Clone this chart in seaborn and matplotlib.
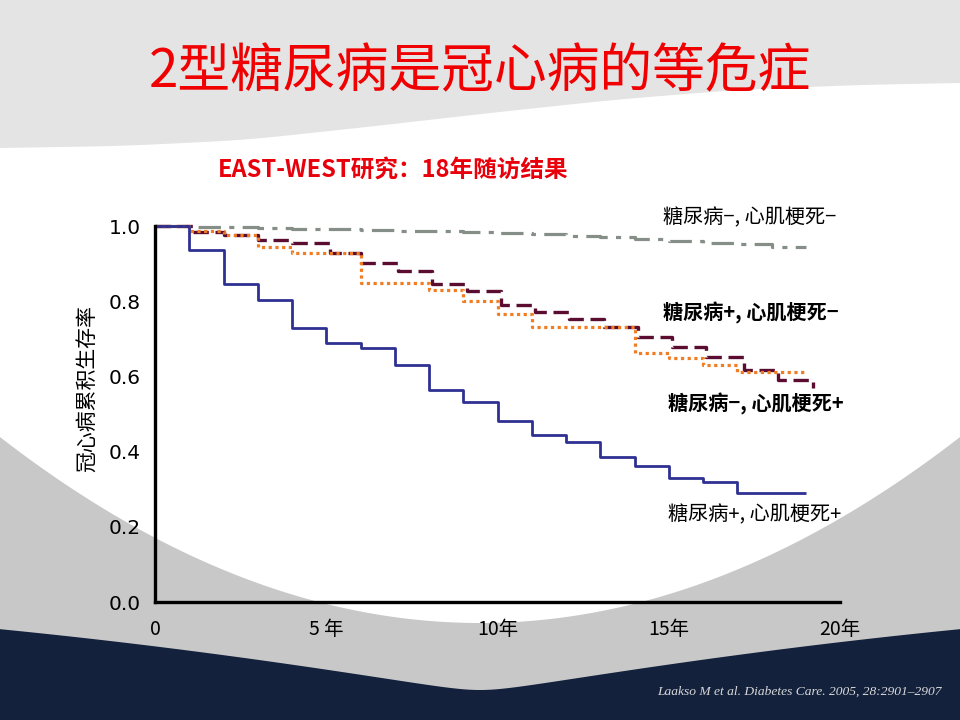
import numpy as np
import pandas as pd
import matplotlib
matplotlib.use("Agg")
import matplotlib.pyplot as plt
import seaborn as sns

# ---------------- data ----------------
# DM-, MI-  (grey dash-dot)
t_nn = [0, 1, 2, 3, 4, 5, 6, 7, 8, 9, 10, 11, 12, 13, 14, 15, 16, 17, 18, 19]
s_nn = [1.0, 0.998, 0.997, 0.995, 0.993, 0.991, 0.989, 0.987, 0.986, 0.984,
        0.981, 0.978, 0.974, 0.971, 0.966, 0.960, 0.956, 0.952, 0.944, 0.944]
# DM+, MI-  (maroon dashed)
t_pn = [0, 1.1, 2.0, 3.0, 4.0, 5.1, 6.0, 7.1, 8.1, 9.1, 10.1, 11.1, 12.1, 13.1,
        14.1, 15.1, 16.1, 17.2, 18.2, 19.2]
s_pn = [1.0, 0.985, 0.976, 0.963, 0.954, 0.929, 0.901, 0.880, 0.846, 0.826,
        0.790, 0.771, 0.753, 0.731, 0.705, 0.678, 0.652, 0.617, 0.590, 0.569]
# DM-, MI+  (orange dotted)
t_np = [0, 1, 2, 3, 4, 6, 8, 9, 10, 11, 14, 15, 16, 17, 19]
s_np = [1.0, 0.988, 0.976, 0.944, 0.928, 0.848, 0.831, 0.800, 0.766, 0.731,
        0.662, 0.649, 0.630, 0.612, 0.612]
# DM+, MI+  (blue solid)
t_pp = [0, 1, 2, 3, 4, 5, 6, 7, 8, 9, 10, 11, 12, 13, 14, 15, 16, 17, 19]
s_pp = [1.0, 0.936, 0.846, 0.803, 0.729, 0.689, 0.676, 0.630, 0.564, 0.532,
        0.481, 0.444, 0.426, 0.386, 0.362, 0.330, 0.319, 0.290, 0.290]

x_ticks = [0, 5, 10, 15, 20]
x_tick_labels = ["0", "5 年", "10年", "15年", "20年"]
y_ticks = [0.0, 0.2, 0.4, 0.6, 0.8, 1.0]
y_tick_labels = ["0.0", "0.2", "0.4", "0.6", "0.8", "1.0"]

group_labels = ["糖尿病−, 心肌梗死−", "糖尿病+, 心肌梗死−",
                "糖尿病−, 心肌梗死+", "糖尿病+, 心肌梗死+"]

title = "2型糖尿病是冠心病的等危症"
subtitle = "EAST-WEST研究：18年随访结果"
ylabel = "冠心病累积生存率"
citation = "Laakso M et al. Diabetes Care. 2005, 28:2901–2907"

# ---------------- style ----------------
sns.set_theme(style="white")
plt.rcParams['font.family'] = ['Noto Sans CJK SC', 'DejaVu Sans']
plt.rcParams['axes.unicode_minus'] = False

W, H = 960, 720
fig = plt.figure(figsize=(9.6, 7.2), dpi=100)
fig.patch.set_facecolor("white")

# ---------------- slide background (decorative) ----------------
bg = fig.add_axes([0, 0, 1, 1], zorder=-10)
bg.set_xlim(0, W)
bg.set_ylim(H, 0)
bg.axis("off")
xx = np.linspace(0, W, 961)


def smooth(y, k=41):
    pad = k // 2
    yp = np.pad(y, pad, mode="reflect", reflect_type="odd")
    return np.convolve(yp, np.ones(k) / k, mode="valid")


top_x = [0, 122, 245, 367, 490, 612, 735, 857, 960]
top_y = [148, 146, 140, 127, 113, 100, 90, 85, 83]
bg.fill_between(xx, 0, smooth(np.interp(xx, top_x, top_y), 81),
                color="#e4e4e4", lw=0)
bowl = 623 - 0.000807 * (xx - 480) ** 2
bg.fill_between(xx, bowl, H, color="#c8c8c8", lw=0)
r = 30.0
xp = np.sqrt((xx - 480) ** 2 + r ** 2) - r
navy_edge = 690 - (0.1708 * xp - 0.0000796 * xp ** 2)
bg.fill_between(xx, navy_edge, H, color="#13213c", lw=0)

# ---------------- main axes ----------------
ax = fig.add_axes([155 / W, 1 - 602 / H, (840 - 155) / W, (602 - 226) / H])
ax.set_facecolor("none")

series = [
    (t_nn, s_nn, "#858f88", (0, (7, 2.6, 1.6, 2.6)), 2.3),
    (t_pn, s_pn, "#5a0d30", (0, (4.6, 2.0)), 2.4),
    (t_np, s_np, "#f27c22", (0, (1.0, 1.1)), 2.3),
    (t_pp, s_pp, "#2e3192", "-", 2.0),
]
for (t, s, c, ls, lw), lab in zip(series, group_labels):
    df = pd.DataFrame({"year": t, "surv": s})
    sns.lineplot(data=df, x="year", y="surv", ax=ax, color=c, linestyle=ls,
                 linewidth=lw, drawstyle="steps-post", estimator=None,
                 sort=False, clip_on=False, dash_capstyle="butt",
                 solid_capstyle="butt")

ax.set_xlim(0, 20)
ax.set_ylim(0, 1.0)
ax.set_xticks(x_ticks)
ax.set_xticklabels(x_tick_labels, fontsize=14, color="black")
ax.set_yticks(y_ticks)
ax.set_yticklabels(y_tick_labels, fontsize=14.5, color="black",
                   family=["DejaVu Sans"])
ax.tick_params(axis="both", length=0)
ax.tick_params(axis="x", pad=12)
ax.tick_params(axis="y", pad=10)
ax.set_xlabel("")
ax.set_ylabel(ylabel, fontsize=15, color="black", va="center")
ax.yaxis.set_label_coords((88 - 155) / 685, (602 - 388) / 376)
for sp in ["top", "right"]:
    ax.spines[sp].set_visible(False)
for sp in ["left", "bottom"]:
    ax.spines[sp].set_color("black")
    ax.spines[sp].set_linewidth(2.4)
ax.grid(False)


# curve labels
def px2data(px, py):
    return (px - 155) / 685 * 20, (602 - py) / 376


lab_pos = [(663, 218, "normal"), (663, 313, "bold"),
           (668, 404, "bold"), (668, 515, "normal")]
for lab, (px, py, fw) in zip(group_labels, lab_pos):
    x0, y0 = px2data(px, py)
    ax.text(x0, y0, lab, fontsize=14.5, fontweight=fw, color="black",
            ha="left", va="center")

# titles
fig.text(480 / W, 1 - 72 / H, title, fontsize=38, color="#f00000",
         ha="center", va="center")
fig.text(393 / W, 1 - 170 / H, subtitle, fontsize=17, color="#e8000b",
         fontweight="bold", ha="center", va="center")
fig.text(942 / W, 1 - 692 / H, citation, fontsize=9.7, color="#d9d9d9",
         style="italic", family=["Liberation Serif"], ha="right", va="center")

fig.savefig("out.png", dpi=100)
